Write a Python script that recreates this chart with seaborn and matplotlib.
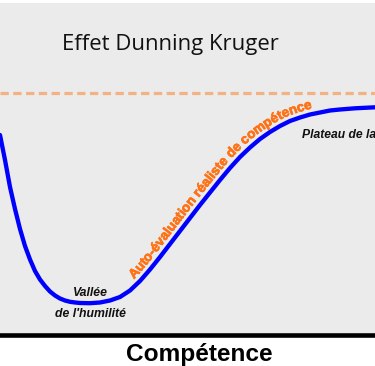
import numpy as np
import pandas as pd
import matplotlib
matplotlib.use("Agg")
import matplotlib.pyplot as plt
import matplotlib.transforms as mtrans
import matplotlib.patheffects as pe
from matplotlib.font_manager import FontProperties, findfont
from matplotlib.ft2font import FT2Font
import seaborn as sns

# ---------------- data ----------------
competence = [0, 5, 10, 15, 20, 25, 30, 35, 40, 45, 50, 55, 60, 65, 70, 75, 80,
              90, 100, 110, 120, 130, 140, 150, 160, 170, 180, 190, 200, 210,
              220, 230, 240, 250, 260, 270, 280, 290, 300, 310, 320, 330, 340,
              355, 375]
confiance = [200, 175, 148, 126, 106, 89, 75.5, 64, 55.5, 49, 43.5, 39.5, 36.5,
             34.5, 33.2, 32.5, 32, 31.8, 32.5, 34.5, 38, 44.5, 54, 65.5, 78, 91,
             104, 117, 130, 142.5, 155, 167, 178, 187.5, 196, 203, 209, 214,
             217.5, 220.5, 222.5, 224.5, 225.5, 226.7, 227.7]
niveau_realiste = 242

title_text = "Effet Dunning Kruger"
xlabel_text = "Compétence"
curve_label = "Auto-évaluation réaliste de compétence"
valley_labels = ["Vallée", "de l'humilité"]
plateau_label = "Plateau de la"

df = pd.DataFrame({"competence": competence, "confiance": confiance})

# ---------------- figure ----------------
sns.set_theme(style="white")
plt.rcParams["font.family"] = ["Liberation Sans", "DejaVu Sans"]

W, H, DPI = 375, 366, 100
fig = plt.figure(figsize=(W / DPI, H / DPI), dpi=DPI, facecolor="white")
ax = fig.add_axes([0, 31 / H, 1, 332 / H])
ax.set_facecolor("#ebebeb")
ax.set_xlim(0, 375)
ax.set_ylim(0, 332)

sns.lineplot(data=df, x="competence", y="confiance", color="#0000ff",
             linewidth=3.1, ax=ax, sort=False, solid_joinstyle="round",
             solid_capstyle="round")
ax.axhline(niveau_realiste, color="#f4b183", lw=2.3, dashes=(2.6, 1.4))

for s in ["top", "left", "right"]:
    ax.spines[s].set_visible(False)
ax.spines["bottom"].set_color("black")
ax.spines["bottom"].set_linewidth(3.3)
ax.set_xticks([])
ax.set_yticks([])
ax.set_ylabel("")
ax.set_xlabel(xlabel_text, fontsize=17.6, fontweight="bold",
              family="Liberation Sans", color="black")
ax.xaxis.label.set_va("baseline")
ax.xaxis.set_label_coords(199.5 / 375, (335 - 361) / 332)

fig.text(61.7 / W, (H - 50) / H, title_text, ha="left", va="baseline",
         family="Open Sans", fontsize=15.9, color="#111111")

ax.text(90.5, 335 - 296.5, valley_labels[0], ha="center", va="baseline",
        fontsize=8.8, fontweight="bold", style="italic", color="#111111")
ax.text(90.5, 335 - 317, valley_labels[1], ha="center", va="baseline",
        fontsize=8.8, fontweight="bold", style="italic", color="#111111")
ax.text(301.5, 335 - 138.3, plateau_label, ha="left", va="baseline",
        fontsize=8.7, fontweight="bold", style="italic", color="#111111")

# ---------------- text following the curve ----------------
def curved_text(text, xs, ys, x_start_px, x_end_px, offset_px, color):
    pts = ax.transData.transform(np.column_stack([xs, ys]))
    seg = np.hypot(np.diff(pts[:, 0]), np.diff(pts[:, 1]))
    cum = np.concatenate([[0], np.cumsum(seg)])
    sf = np.arange(0, cum[-1], 0.5)
    px = np.interp(sf, cum, pts[:, 0])
    py = np.interp(sf, cum, pts[:, 1])
    k = 14
    tx = np.gradient(px)
    ty = np.gradient(py)
    ker = np.ones(2 * k + 1) / (2 * k + 1)
    tx = np.convolve(np.pad(tx, k, mode="edge"), ker, mode="valid")
    ty = np.convolve(np.pad(ty, k, mode="edge"), ker, mode="valid")
    nrm = np.hypot(tx, ty)
    tx, ty = tx / nrm, ty / nrm
    ox = px - offset_px * ty
    oy = py + offset_px * tx
    oseg = np.hypot(np.diff(ox), np.diff(oy))
    ocum = np.concatenate([[0], np.cumsum(oseg)])
    i0 = np.argmax(px >= x_start_px)
    i1 = np.argmax(px >= x_end_px)
    L = ocum[i1] - ocum[i0]
    prop = FontProperties(family="Liberation Sans", weight="bold")
    font = FT2Font(findfont(prop))
    font.set_size(10, DPI)
    adv = np.array([font.load_char(ord(c)).linearHoriAdvance / 65536 for c in text])
    size = 10 * L / adv.sum()
    adv = adv * size / 10
    pos = ocum[i0] + np.concatenate([[0], np.cumsum(adv)[:-1]]) + adv / 2
    for c, s in zip(text, pos):
        j = min(np.searchsorted(ocum, s), len(ox) - 1)
        ang = np.degrees(np.arctan2(ty[j], tx[j]))
        ax.text(ox[j], oy[j], c, transform=mtrans.IdentityTransform(),
                ha="center", va="baseline", rotation=ang, rotation_mode="anchor",
                fontsize=size, fontweight="bold", color=color,
                family="Liberation Sans",
                path_effects=[pe.withStroke(linewidth=0.5, foreground=color)])

curved_text(curve_label, competence, confiance, 137, 313, 5.5, "#ff7216")

fig.savefig("out.png", dpi=DPI, facecolor="white")
